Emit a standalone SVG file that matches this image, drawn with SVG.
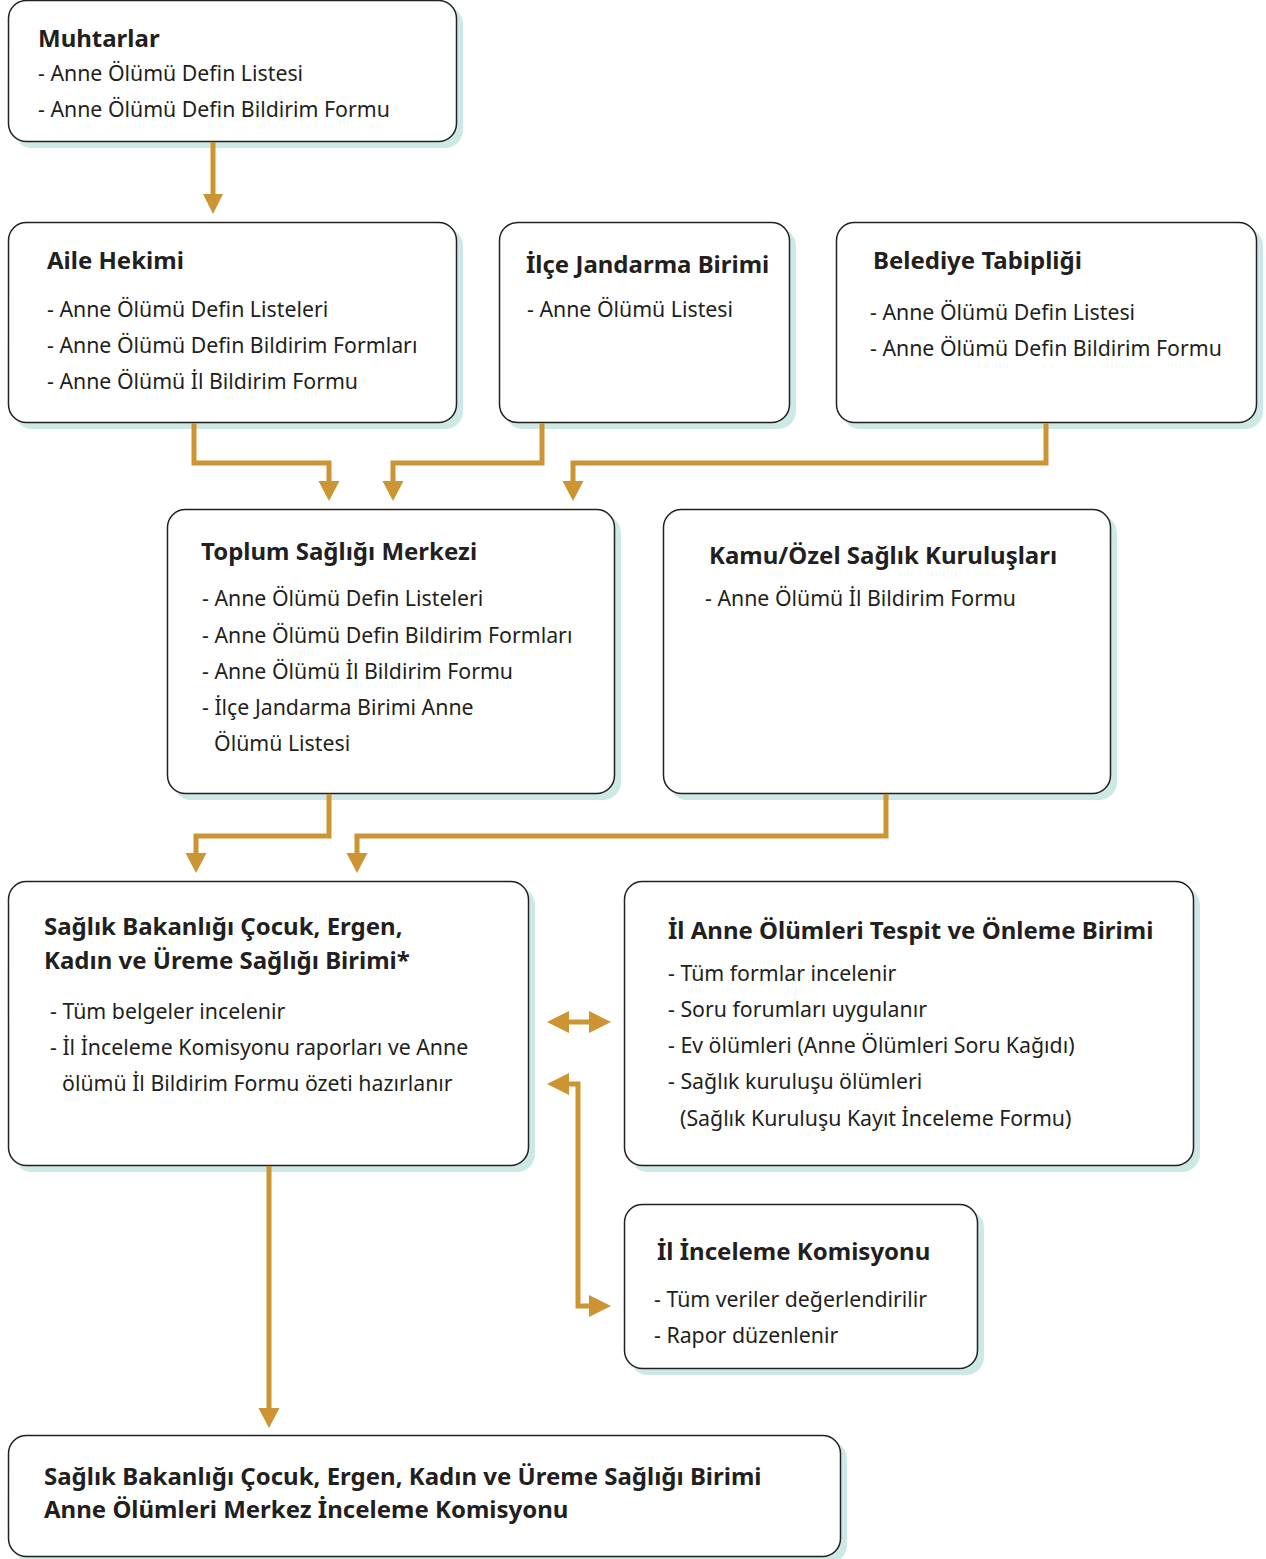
<svg xmlns="http://www.w3.org/2000/svg" width="1266" height="1559" viewBox="0 0 1266 1559">
<defs>
<style>
.sh{fill:#cde9e6}
.bx{fill:#fff;stroke:#231f20;stroke-width:1.5}
.t{font-family:"Noto Sans","Open Sans",sans-serif;font-size:21.3px;fill:#231f20}
.b{font-family:"Noto Sans","Open Sans",sans-serif;font-size:24px;font-weight:bold;fill:#231f20}
.c{fill:none;stroke:#cc9433;stroke-width:5}
.h{fill:#cc9433}
</style>
</defs>
<rect width="1266" height="1559" fill="#fff"/>
<g id="muhtarlar">
<rect class="sh" x="14" y="6" width="449" height="142" rx="18"/>
<rect class="bx" x="8.5" y="0.5" width="448" height="141" rx="18"/>
<text class="b" x="38" y="47">Muhtarlar</text>
<text class="t" x="38" y="81">- Anne Ölümü Defin Listesi</text>
<text class="t" x="38" y="117">- Anne Ölümü Defin Bildirim Formu</text>
</g>
<g id="aile">
<rect class="sh" x="14" y="228" width="449" height="201" rx="18"/>
<rect class="bx" x="8.5" y="222.5" width="448" height="200" rx="18"/>
<text class="b" x="47" y="269">Aile Hekimi</text>
<text class="t" x="47" y="317">- Anne Ölümü Defin Listeleri</text>
<text class="t" x="47" y="353">- Anne Ölümü Defin Bildirim Formları</text>
<text class="t" x="47" y="389">- Anne Ölümü İl Bildirim Formu</text>
</g>
<g id="jandarma">
<rect class="sh" x="505" y="228" width="291" height="201" rx="18"/>
<rect class="bx" x="499.5" y="222.5" width="290" height="200" rx="18"/>
<text class="b" x="526" y="273">İlçe Jandarma Birimi</text>
<text class="t" x="527" y="317">- Anne Ölümü Listesi</text>
</g>
<g id="belediye">
<rect class="sh" x="842" y="228" width="421" height="201" rx="18"/>
<rect class="bx" x="836.5" y="222.5" width="420" height="200" rx="18"/>
<text class="b" x="873" y="269">Belediye Tabipliği</text>
<text class="t" x="870" y="320">- Anne Ölümü Defin Listesi</text>
<text class="t" x="870" y="356">- Anne Ölümü Defin Bildirim Formu</text>
</g>
<g id="toplum">
<rect class="sh" x="173" y="515" width="448" height="285" rx="18"/>
<rect class="bx" x="167.5" y="509.5" width="447" height="284" rx="18"/>
<text class="b" x="201" y="560">Toplum Sağlığı Merkezi</text>
<text class="t" x="202" y="606">- Anne Ölümü Defin Listeleri</text>
<text class="t" x="202" y="643">- Anne Ölümü Defin Bildirim Formları</text>
<text class="t" x="202" y="679">- Anne Ölümü İl Bildirim Formu</text>
<text class="t" x="202" y="715">- İlçe Jandarma Birimi Anne</text>
<text class="t" x="214" y="751">Ölümü Listesi</text>
</g>
<g id="kamu">
<rect class="sh" x="669" y="515" width="448" height="285" rx="18"/>
<rect class="bx" x="663.5" y="509.5" width="447" height="284" rx="18"/>
<text class="b" x="709" y="564">Kamu/Özel Sağlık Kuruluşları</text>
<text class="t" x="705" y="606">- Anne Ölümü İl Bildirim Formu</text>
</g>
<g id="saglik-bakanligi">
<rect class="sh" x="14" y="887" width="521" height="285" rx="18"/>
<rect class="bx" x="8.5" y="881.5" width="520" height="284" rx="18"/>
<text class="b" x="44" y="935">Sağlık Bakanlığı Çocuk, Ergen,</text>
<text class="b" x="44" y="969">Kadın ve Üreme Sağlığı Birimi*</text>
<text class="t" x="50" y="1019">- Tüm belgeler incelenir</text>
<text class="t" x="50" y="1055">- İl İnceleme Komisyonu raporları ve Anne</text>
<text class="t" x="62" y="1091">ölümü İl Bildirim Formu özeti hazırlanır</text>
</g>
<g id="il-anne">
<rect class="sh" x="630" y="887" width="570" height="285" rx="18"/>
<rect class="bx" x="624.5" y="881.5" width="569" height="284" rx="18"/>
<text class="b" x="668" y="939">İl Anne Ölümleri Tespit ve Önleme Birimi</text>
<text class="t" x="668" y="981">- Tüm formlar incelenir</text>
<text class="t" x="668" y="1017">- Soru forumları uygulanır</text>
<text class="t" x="668" y="1053">- Ev ölümleri (Anne Ölümleri Soru Kağıdı)</text>
<text class="t" x="668" y="1089">- Sağlık kuruluşu ölümleri</text>
<text class="t" x="680" y="1126">(Sağlık Kuruluşu Kayıt İnceleme Formu)</text>
</g>
<g id="il-inceleme">
<rect class="sh" x="630" y="1210" width="354" height="165" rx="18"/>
<rect class="bx" x="624.5" y="1204.5" width="353" height="164" rx="18"/>
<text class="b" x="657" y="1260">İl İnceleme Komisyonu</text>
<text class="t" x="654" y="1307">- Tüm veriler değerlendirilir</text>
<text class="t" x="654" y="1343">- Rapor düzenlenir</text>
</g>
<g id="merkez">
<rect class="sh" x="14" y="1441" width="833" height="122" rx="18"/>
<rect class="bx" x="8.5" y="1435.5" width="832" height="121" rx="18"/>
<text class="b" x="44" y="1485">Sağlık Bakanlığı Çocuk, Ergen, Kadın ve Üreme Sağlığı Birimi</text>
<text class="b" x="44" y="1518">Anne Ölümleri Merkez İnceleme Komisyonu</text>
</g>
<g id="connectors">
<path class="c" d="M213,142 V196"/>
<polygon class="h" points="203,194 223,194 213,214"/>
<path class="c" d="M194,423 V463 H329 V483"/>
<polygon class="h" points="318.5,481 339.5,481 329,501"/>
<path class="c" d="M542,423 V463 H393 V483"/>
<polygon class="h" points="382.5,481 403.5,481 393,501"/>
<path class="c" d="M1046,423 V463 H573 V483"/>
<polygon class="h" points="562.5,481 583.5,481 573,501"/>
<path class="c" d="M329,794 V836 H196 V855"/>
<polygon class="h" points="185.5,853 206.5,853 196,873"/>
<path class="c" d="M886,794 V836 H357 V855"/>
<polygon class="h" points="346.5,853 367.5,853 357,873"/>
<path class="c" d="M566,1022 H592"/>
<polygon class="h" points="547,1022 569,1011 569,1033"/>
<polygon class="h" points="611,1022 589,1011 589,1033"/>
<path class="c" d="M566,1084 H578 V1306 H592"/>
<polygon class="h" points="547,1084 569,1073 569,1095"/>
<polygon class="h" points="611,1306 589,1295 589,1317"/>
<path class="c" d="M269,1166 V1410"/>
<polygon class="h" points="258.5,1408 279.5,1408 269,1428"/>
</g>
</svg>
